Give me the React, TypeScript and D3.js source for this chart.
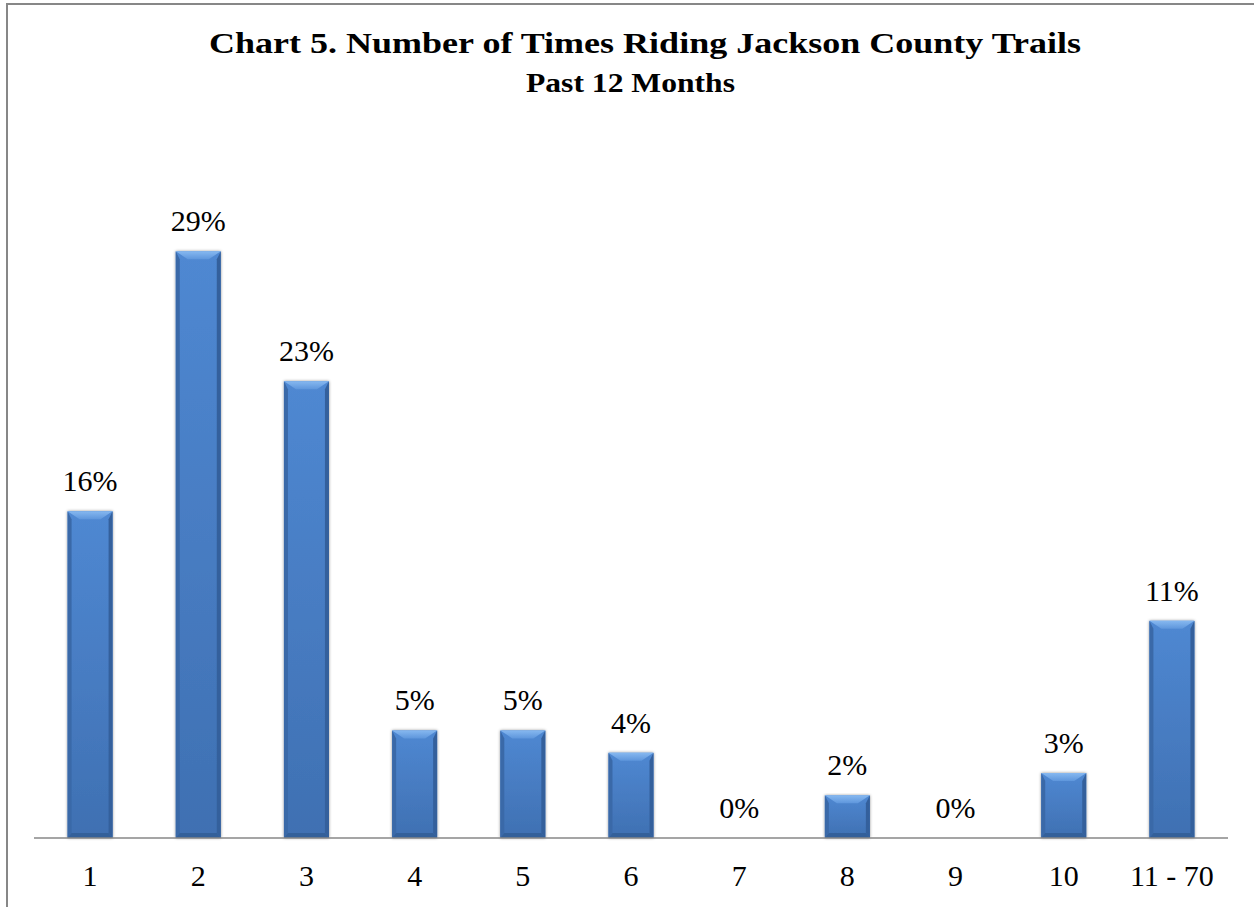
import React from "react";
import * as d3 from "d3";

const categories = ["1", "2", "3", "4", "5", "6", "7", "8", "9", "10", "11 - 70"];
const values = [16.1, 28.9, 22.5, 5.3, 5.3, 4.2, 0, 2.1, 0, 3.2, 10.7];
const titleText = "Chart 5. Number of Times Riding Jackson County Trails";
const subtitleText = "Past 12 Months";

const W = 1254;
const H = 907;
const FONT = "Liberation Serif, Times New Roman, serif";

export default function App() {
  const x = d3
    .scaleBand<string>()
    .domain(categories)
    .range([36, 1226])
    .paddingInner(0.584)
    .paddingOuter(0.292);
  const y = d3.scaleLinear().domain([0, 30]).range([838, 229]);
  const bw = x.bandwidth();
  const tStyle = { fontFamily: FONT };

  return (
    <svg
      width={W}
      height={H}
      style={{ position: "absolute", left: 0, top: 0, background: "#fff", fontFamily: FONT }}
    >
      <defs>
        <linearGradient id="body" x1="0" y1="0" x2="0" y2="1">
          <stop offset="0" stopColor="#4f88d2" />
          <stop offset="1" stopColor="#3f70b2" />
        </linearGradient>
        <linearGradient id="topb" x1="0" y1="0" x2="0" y2="1">
          <stop offset="0" stopColor="#86b8f0" />
          <stop offset="1" stopColor="#5e96dc" />
        </linearGradient>
        <filter id="shadow" x="-20%" y="-5%" width="140%" height="110%">
          <feDropShadow dx="0" dy="0" stdDeviation="1.6" floodColor="#000" floodOpacity="0.45" />
        </filter>
      </defs>
      <rect x={7} y={4} width={W + 20} height={H + 20} fill="none" stroke="#878787" strokeWidth={2} />

      <text
        x={645}
        y={53}
        textAnchor="middle"
        fontSize={30}
        fontWeight="bold"
        textLength={872}
        lengthAdjust="spacingAndGlyphs"
        style={tStyle}
      >
        {titleText}
      </text>
      <text
        x={630.5}
        y={92}
        textAnchor="middle"
        fontSize={28}
        fontWeight="bold"
        textLength={209}
        lengthAdjust="spacingAndGlyphs"
        style={tStyle}
      >
        {subtitleText}
      </text>

      {categories.map((c, i) => {
        const v = values[i];
        const x0 = x(c) as number;
        const y0 = y(v);
        const y1 = y(0);
        const h = y1 - y0;
        const b = Math.min(8, h / 2);
        const bb = Math.min(5, h / 2);
        return (
          <g key={c}>
            {h > 0 && (
              <g>
                <rect x={x0} y={y0} width={bw} height={h} fill="url(#body)" filter="url(#shadow)" />
                <polygon
                  points={`${x0},${y0} ${x0 + 4},${y0 + b} ${x0 + 4},${y1 - bb} ${x0},${y1}`}
                  fill="#3a69a8"
                />
                <polygon
                  points={`${x0 + bw},${y0} ${x0 + bw - 4},${y0 + b} ${x0 + bw - 4},${y1 - bb} ${x0 + bw},${y1}`}
                  fill="#34609c"
                />
                <polygon
                  points={`${x0},${y1} ${x0 + bw},${y1} ${x0 + bw - 4},${y1 - bb} ${x0 + 4},${y1 - bb}`}
                  fill="#33609a"
                />
                <polygon
                  points={`${x0},${y0} ${x0 + bw},${y0} ${x0 + bw - 4 - b},${y0 + b} ${x0 + 4 + b},${y0 + b}`}
                  fill="url(#topb)"
                />
              </g>
            )}
            <text x={x0 + bw / 2} y={y0 - 20} textAnchor="middle" fontSize={30} fill="#000" style={tStyle}>
              {Math.round(v) + "%"}
            </text>
            <text x={x0 + bw / 2} y={886} textAnchor="middle" fontSize={30} fill="#000" style={tStyle}>
              {c}
            </text>
          </g>
        );
      })}
      <line x1={34} x2={1228} y1={y(0)} y2={y(0)} stroke="#878787" strokeWidth={1.5} />
    </svg>
  );
}
